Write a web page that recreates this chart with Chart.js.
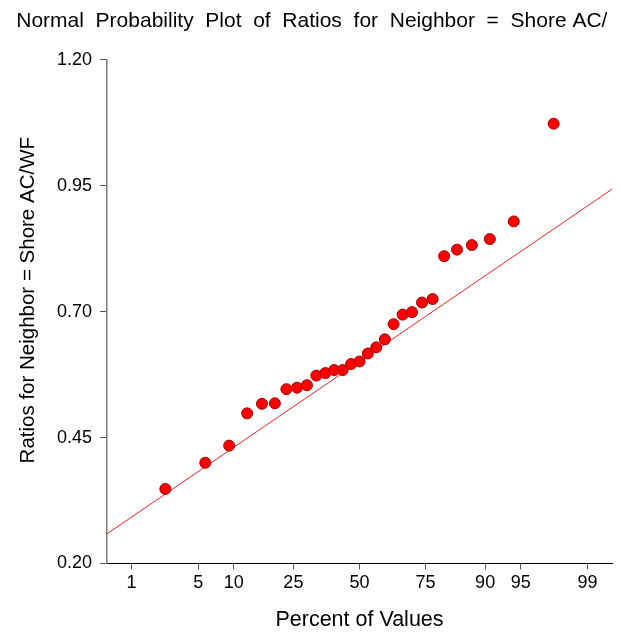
<!DOCTYPE html>
<html>
<head>
<meta charset="utf-8">
<style>
  html, body { margin: 0; padding: 0; background: #ffffff; }
  #wrap { width: 621px; height: 633px; }
</style>
<script src="https://cdn.jsdelivr.net/npm/chart.js@4/dist/chart.umd.min.js"></script>
</head>
<body>
<div id="wrap"><canvas id="plot" width="621" height="633"></canvas></div>
<script>
// Sorted sample of ratios (Neighbor = Shore AC/WF)
const ratios = [
  0.348, 0.400, 0.434, 0.498, 0.517, 0.518, 0.546, 0.549, 0.554, 0.573,
  0.578, 0.584, 0.584, 0.596, 0.601, 0.617, 0.629, 0.645, 0.675, 0.694,
  0.699, 0.718, 0.725, 0.810, 0.823, 0.832, 0.844, 0.879, 1.073
];
// Percent labels on the probability axis
const percentTicks = [1, 5, 10, 25, 50, 75, 90, 95, 99];
// Probability axis range (percent)
const percentRange = [0.5, 99.5];
// Value axis ticks
const valueTicks = [0.20, 0.45, 0.70, 0.95, 1.20];
// Reference normal line: centre and spread
const fitCenter = 0.601;
const fitSpread = 0.1328;

// Inverse standard normal CDF (Acklam)
function normInv(p) {
  const a = [-3.969683028665376e+01, 2.209460984245205e+02, -2.759285104469687e+02,
             1.383577518672690e+02, -3.066479806614716e+01, 2.506628277459239e+00];
  const b = [-5.447609879822406e+01, 1.615858368580409e+02, -1.556989798598866e+02,
             6.680131188771972e+01, -1.328068155288572e+01];
  const c = [-7.784894002430293e-03, -3.223964580411365e-01, -2.400758277161838e+00,
             -2.549671750451359e+00, 4.374664141464968e+00, 2.938163982698783e+00];
  const d = [7.784695709041462e-03, 3.224671290700398e-01, 2.445134137142996e+00,
             3.754408661907416e+00];
  const pl = 0.02425;
  let q, r;
  if (p < pl) {
    q = Math.sqrt(-2 * Math.log(p));
    return (((((c[0]*q+c[1])*q+c[2])*q+c[3])*q+c[4])*q+c[5]) / ((((d[0]*q+d[1])*q+d[2])*q+d[3])*q+1);
  }
  if (p > 1 - pl) {
    q = Math.sqrt(-2 * Math.log(1 - p));
    return -(((((c[0]*q+c[1])*q+c[2])*q+c[3])*q+c[4])*q+c[5]) / ((((d[0]*q+d[1])*q+d[2])*q+d[3])*q+1);
  }
  q = p - 0.5; r = q * q;
  return (((((a[0]*r+a[1])*r+a[2])*r+a[3])*r+a[4])*r+a[5])*q / (((((b[0]*r+b[1])*r+b[2])*r+b[3])*r+b[4])*r+1);
}

// Median-rank plotting positions
const n = ratios.length;
const points = ratios.map((v, i) => ({ x: normInv((i + 1 - 0.3) / (n + 0.4)), y: v }));

const zMin = normInv(percentRange[0] / 100);
const zMax = normInv(percentRange[1] / 100);
const fitLine = [zMin, zMax].map(z => ({ x: z, y: fitCenter + fitSpread * z }));

const tickZ = percentTicks.map(p => normInv(p / 100));

Chart.defaults.font.family = '"Liberation Sans", Arial, sans-serif';
Chart.defaults.color = '#000000';

new Chart(document.getElementById('plot'), {
  type: 'scatter',
  data: {
    datasets: [
      {
        label: 'Ratios',
        data: points,
        pointRadius: 5.5,
        pointHoverRadius: 5.5,
        pointBackgroundColor: '#ff0000',
        pointBorderColor: '#a00000',
        pointBorderWidth: 1,
        showLine: false,
        order: 1
      },
      {
        label: 'Normal line',
        data: fitLine,
        showLine: true,
        borderColor: '#ff2020',
        borderWidth: 1,
        pointRadius: 0,
        order: 2
      }
    ]
  },
  options: {
    responsive: false,
    animation: false,
    devicePixelRatio: 1,
    layout: { padding: { left: 0, right: 9, top: 0, bottom: 0 } },
    plugins: {
      legend: { display: false },
      tooltip: { enabled: false },
      title: {
        display: true,
        text: '  Normal  Probability  Plot  of  Ratios  for  Neighbor  =  Shore AC/',
        font: { size: 21, weight: 'normal' },
        color: '#000000',
        padding: { top: 9, bottom: 25.5 }
      }
    },
    scales: {
      x: {
        type: 'linear',
        min: zMin,
        max: zMax,
        afterBuildTicks: (scale) => { scale.ticks = tickZ.map(v => ({ value: v })); },
        afterFit: (scale) => { scale.height = 69.5; },
        ticks: {
          autoSkip: false,
          maxRotation: 0,
          padding: 3,
          font: { size: 18 },
          color: '#000000',
          callback: (value, index) => String(percentTicks[index])
        },
        grid: { drawOnChartArea: false, drawTicks: true, tickLength: 6, color: '#555555' },
        border: { display: true, color: '#000000', width: 1 },
        title: {
          display: true,
          text: 'Percent of Values',
          font: { size: 21.5 },
          color: '#000000',
          padding: { top: 0, bottom: 0 }
        }
      },
      y: {
        type: 'linear',
        min: 0.2,
        max: 1.2,
        afterBuildTicks: (scale) => { scale.ticks = valueTicks.map(v => ({ value: v })); },
        afterFit: (scale) => { scale.width = 107; },
        ticks: {
          padding: 8,
          font: { size: 18 },
          color: '#000000',
          callback: (value) => Number(value).toFixed(2)
        },
        grid: { drawOnChartArea: false, drawTicks: true, tickLength: 7, color: '#555555' },
        border: { display: true, color: '#7a7a7a', width: 1.5 },
        title: {
          display: true,
          text: '    Ratios for Neighbor = Shore AC/WF',
          font: { size: 20.5 },
          color: '#000000',
          padding: { top: 16, bottom: 0 }
        }
      }
    }
  }
});
</script>
</body>
</html>
